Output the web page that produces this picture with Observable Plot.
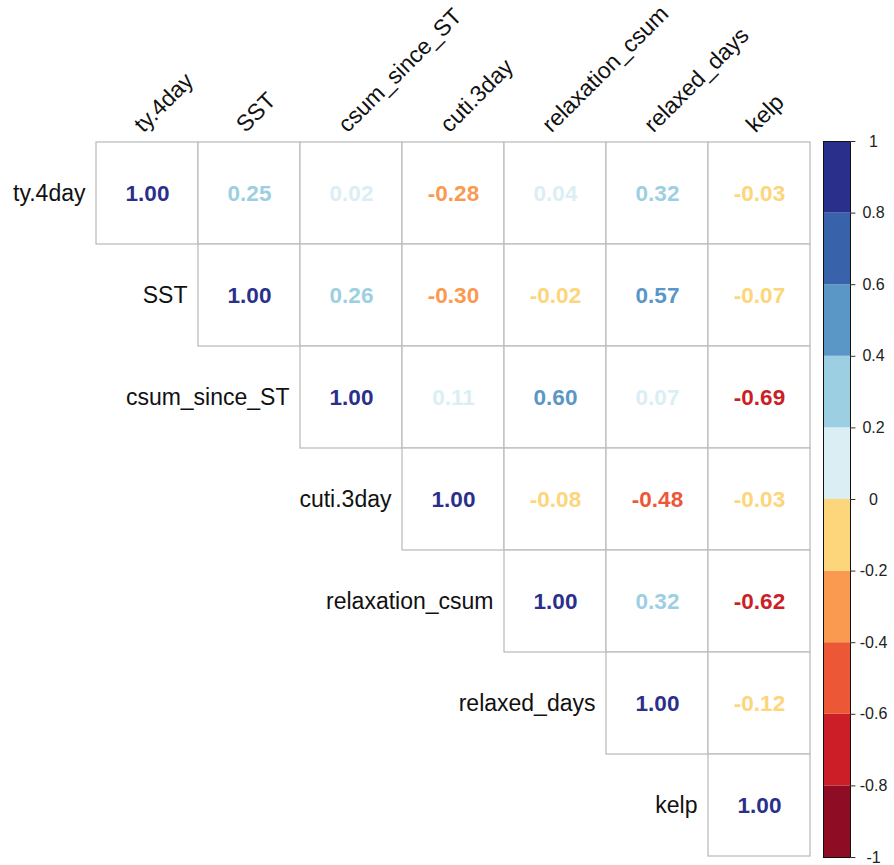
<!DOCTYPE html>
<html>
<head>
<meta charset="utf-8">
<script src="https://cdn.jsdelivr.net/npm/d3@7"></script>
<script src="https://cdn.jsdelivr.net/npm/@observablehq/plot@0.6"></script>
<style>
  html, body { margin: 0; padding: 0; background: #fff; }
  #chart { position: relative; width: 894px; height: 865px; }
  #chart svg { position: absolute; left: 0; top: 0; overflow: visible; }
</style>
</head>
<body>
<div id="chart"></div>
<script>
// Variables (rows and columns of the correlation matrix)
const vars = ["ty.4day", "SST", "csum_since_ST", "cuti.3day", "relaxation_csum", "relaxed_days", "kelp"];

// Upper-triangle correlations, row by row (starting at the diagonal)
const row_ty4day       = [1.00, 0.25, 0.02, -0.28, 0.04, 0.32, -0.03];
const row_SST          = [1.00, 0.26, -0.30, -0.02, 0.57, -0.07];
const row_csum         = [1.00, 0.11, 0.60, 0.07, -0.69];
const row_cuti         = [1.00, -0.08, -0.48, -0.03];
const row_relaxation   = [1.00, 0.32, -0.62];
const row_relaxed      = [1.00, -0.12];
const row_kelp         = [1.00];
const rows = [row_ty4day, row_SST, row_csum, row_cuti, row_relaxation, row_relaxed, row_kelp];

// Colour legend bins
const breaks = [-1, -0.8, -0.6, -0.4, -0.2, 0, 0.2, 0.4, 0.6, 0.8, 1];
const binColors = ["#8f0c25", "#cc1e27", "#ec5736", "#fa9a50", "#fdd57a",
                   "#dbeef4", "#9dcfe3", "#5b97c6", "#3863ab", "#2b2f8c"];
const tickValues = breaks;
const tickLabels = ["-1", "-0.8", "-0.6", "-0.4", "-0.2", "0", "0.2", "0.4", "0.6", "0.8", "1"];

// Build table for the library
const cells = [];
rows.forEach((vals, i) => {
  vals.forEach((v, k) => {
    cells.push({row: vars[i], col: vars[i + k], value: v});
  });
});
// right-closed intervals (a value equal to a break takes the lower bin)
const thresholds = breaks.slice(1, -1).map(b => b + 1e-9);
const colorScale = {type: "threshold", domain: thresholds, range: binColors};

const font = "'Liberation Sans', Arial, Helvetica, sans-serif";

const main = Plot.plot({
  width: 894,
  height: 865,
  marginLeft: 95,
  marginRight: 84,
  marginTop: 141,
  marginBottom: 8,
  style: {fontFamily: font, background: "transparent"},
  x: {type: "band", domain: vars, padding: 0, axis: null},
  y: {type: "band", domain: vars, padding: 0, axis: null},
  color: colorScale,
  marks: [
    Plot.cell(cells, {x: "col", y: "row", fill: "white", stroke: "#bdbdbd", strokeWidth: 1.3, inset: 0}),
    Plot.text(cells, {
      x: "col", y: "row",
      text: d => d.value.toFixed(2),
      fill: "value",
      fontSize: 22.5, fontWeight: "bold"
    }),
    Plot.text(vars, {
      x: d => d, y: d => d,
      text: d => d,
      textAnchor: "end",
      dx: -62,
      fontSize: 23,
      fill: "#111"
    }),
    Plot.text(vars, {
      x: d => d,
      frameAnchor: "top",
      text: d => d,
      rotate: -45,
      textAnchor: "start",
      lineAnchor: "bottom",
      dx: -4, dy: -8,
      fontSize: 23,
      fill: "#111"
    })
  ]
});

const bins = binColors.map((c, i) => ({lo: breaks[i], hi: breaks[i + 1], mid: (breaks[i] + breaks[i + 1]) / 2}));
const ticks = tickValues.map((v, i) => ({value: v, label: tickLabels[i]}));

const bar = Plot.plot({
  width: 894,
  height: 865,
  marginLeft: 823,
  marginRight: 44,
  marginTop: 141,
  marginBottom: 8,
  style: {fontFamily: font, background: "transparent"},
  x: {domain: [0, 1], axis: null},
  y: {domain: [-1, 1], axis: null},
  color: colorScale,
  marks: [
    Plot.rect(bins, {x1: 0, x2: 1, y1: "lo", y2: "hi", fill: "mid"}),
    Plot.frame({stroke: "#111", strokeWidth: 1}),
    Plot.ruleY(ticks, {y: "value", x1: 1, x2: 1.2, stroke: "#333", strokeWidth: 1}),
    Plot.text(ticks, {
      y: "value", x: 1,
      text: "label",
      textAnchor: "middle",
      dx: 23,
      fontSize: 16,
      fill: "#222"
    })
  ]
});

const chart = document.getElementById("chart");
chart.appendChild(main);
chart.appendChild(bar);
</script>
</body>
</html>
